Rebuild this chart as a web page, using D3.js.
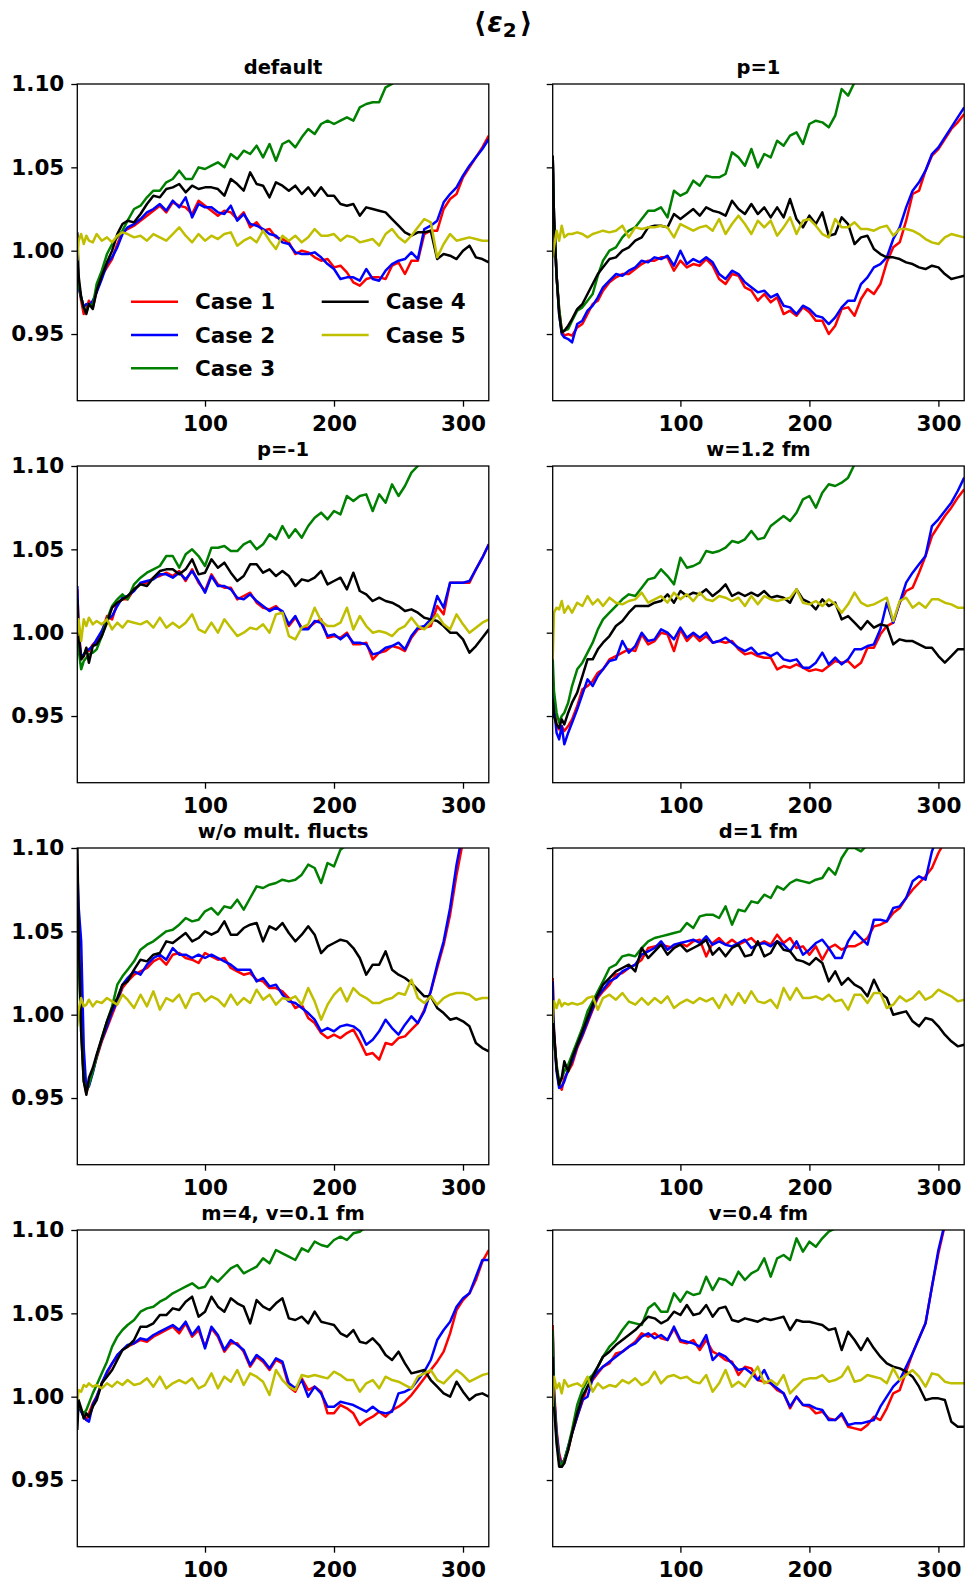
<!DOCTYPE html>
<html>
<head>
<meta charset="utf-8">
<script src="https://cdn.jsdelivr.net/npm/d3@7"></script>
<style>
  body { margin: 0; background: #fff; }
  svg text { font-family: "DejaVu Sans", sans-serif; font-weight: bold; fill: #000; }
</style>
</head>
<body>
<svg id="chart" width="966" height="1584"></svg>
<script>
// x positions shared by every curve
const xGrid = [1,2,4,6,8,10,13,16,20,24,28,32,36,40,
  45,50,55,60,65,70,75,80,85,90,95,100,105,110,115,120,125,130,135,140,
  145,150,155,160,165,170,175,180,185,190,195,200,205,210,215,220,225,230,235,240,
  245,250,255,260,265,270,275,280,285,290,295,300,305,310,315,320];

const caseNames = ["Case 1", "Case 2", "Case 3", "Case 4", "Case 5"];
const caseColors = ["#ff0000", "#0000ff", "#008000", "#000000", "#bfbf00"];
const panelTitles = ["default", "p=1", "p=-1", "w=1.2 fm", "w/o mult. flucts", "d=1 fm", "m=4, v=0.1 fm", "v=0.4 fm"];
const yTicks = [0.95, 1.00, 1.05, 1.10];
const xTicks = [100, 200, 300];

// <eps2> per case, one array per panel (cases 1..5)
const epsDefault = [
  [0.995,0.980,0.970,0.962,0.965,0.970,0.966,0.976,0.985,0.990,0.995,1.004,1.011,1.013,
   1.015,1.018,1.021,1.024,1.027,1.023,1.029,1.027,1.026,1.022,
   1.030,1.027,1.024,1.021,1.024,1.023,1.019,1.023,1.014,1.017,
   1.012,1.013,1.008,1.007,1.005,0.998,1.000,0.999,0.996,0.994,
   0.995,0.990,0.991,0.987,0.981,0.979,0.983,0.984,0.984,0.983,
   0.991,0.993,0.986,0.994,0.994,1.010,1.012,1.012,1.025,1.031,
   1.034,1.044,1.050,1.056,1.062,1.069],
  [0.998,0.978,0.972,0.966,0.968,0.967,0.970,0.975,0.983,0.992,0.996,1.002,1.010,1.014,
   1.016,1.019,1.023,1.025,1.028,1.024,1.030,1.026,1.032,1.020,
   1.028,1.026,1.026,1.023,1.022,1.027,1.018,1.022,1.016,1.015,
   1.013,1.010,1.009,1.005,1.004,0.999,0.998,0.998,0.999,0.996,
   0.992,0.989,0.983,0.984,0.984,0.982,0.989,0.983,0.982,0.988,
   0.992,0.994,0.995,0.999,0.995,1.013,1.015,1.018,1.029,1.034,
   1.038,1.045,1.051,1.056,1.061,1.067],
  [0.996,0.980,0.972,0.966,0.963,0.968,0.967,0.980,0.988,0.998,1.004,1.008,1.012,1.018,
   1.025,1.027,1.032,1.036,1.036,1.041,1.043,1.048,1.043,1.043,
   1.050,1.049,1.051,1.053,1.050,1.058,1.055,1.060,1.058,1.063,
   1.056,1.064,1.054,1.064,1.066,1.062,1.068,1.073,1.070,1.076,
   1.078,1.076,1.078,1.080,1.078,1.086,1.088,1.089,1.089,1.098,
   1.100,1.106],
  [1.011,0.985,0.972,0.966,0.962,0.968,0.965,0.976,0.985,0.993,1.000,1.010,1.016,1.018,
   1.017,1.022,1.028,1.033,1.032,1.037,1.038,1.040,1.035,1.039,
   1.037,1.038,1.038,1.037,1.033,1.043,1.040,1.036,1.047,1.040,
   1.039,1.032,1.041,1.039,1.036,1.039,1.034,1.038,1.033,1.038,
   1.033,1.033,1.028,1.027,1.028,1.021,1.026,1.025,1.024,1.023,
   1.019,1.015,1.011,1.009,1.011,1.011,1.012,0.995,0.998,0.997,
   0.995,1.000,1.003,0.996,0.995,0.993],
  [0.994,1.006,1.010,1.004,1.009,1.006,1.005,1.010,1.006,1.008,1.005,1.009,1.011,1.010,
   1.008,1.009,1.006,1.010,1.008,1.006,1.010,1.014,1.009,1.005,
   1.010,1.006,1.009,1.007,1.010,1.011,1.003,1.006,1.008,1.005,
   1.012,1.006,1.001,1.009,1.006,1.009,1.005,1.008,1.013,1.009,
   1.009,1.010,1.006,1.009,1.008,1.005,1.006,1.007,1.003,1.010,
   1.013,1.008,1.005,1.009,1.014,1.019,1.017,0.996,1.004,1.010,
   1.006,1.007,1.008,1.007,1.006,1.006]
];

const epsP1 = [
  [1.057,1.020,0.985,0.965,0.952,0.949,0.950,0.949,0.954,0.956,0.962,0.968,0.970,0.976,
   0.981,0.984,0.986,0.986,0.989,0.992,0.994,0.994,0.996,0.996,
   0.988,0.994,0.990,0.992,0.991,0.995,0.991,0.983,0.980,0.986,
   0.985,0.978,0.976,0.970,0.974,0.969,0.972,0.962,0.964,0.961,
   0.966,0.963,0.958,0.958,0.950,0.955,0.965,0.966,0.961,0.971,
   0.977,0.974,0.980,0.993,1.002,1.005,1.018,1.034,1.036,1.048,
   1.057,1.061,1.067,1.073,1.077,1.082],
  [1.057,1.020,0.985,0.962,0.950,0.948,0.947,0.945,0.956,0.958,0.964,0.967,0.972,0.978,
   0.982,0.986,0.985,0.988,0.990,0.994,0.993,0.996,0.995,0.997,
   0.991,1.000,0.992,0.995,0.993,0.996,0.993,0.986,0.983,0.988,
   0.986,0.981,0.978,0.975,0.976,0.972,0.974,0.967,0.966,0.962,
   0.967,0.965,0.961,0.960,0.956,0.960,0.966,0.970,0.970,0.980,
   0.984,0.990,0.992,0.996,1.007,1.014,1.026,1.036,1.041,1.048,
   1.058,1.062,1.068,1.074,1.080,1.086],
  [1.055,1.020,0.985,0.965,0.952,0.952,0.953,0.958,0.964,0.966,0.970,0.974,0.985,0.994,
   1.000,1.002,1.008,1.012,1.014,1.019,1.024,1.024,1.026,1.020,
   1.036,1.033,1.035,1.042,1.039,1.045,1.044,1.044,1.046,1.059,
   1.056,1.051,1.061,1.050,1.058,1.056,1.066,1.063,1.069,1.071,
   1.064,1.076,1.078,1.077,1.074,1.081,1.097,1.093,1.101,1.108],
  [1.057,1.020,0.985,0.962,0.951,0.952,0.955,0.959,0.965,0.968,0.974,0.980,0.986,0.990,
   0.995,0.996,1.000,1.002,1.006,1.008,1.014,1.015,1.015,1.014,
   1.022,1.019,1.022,1.025,1.021,1.026,1.024,1.023,1.021,1.030,
   1.025,1.022,1.028,1.022,1.026,1.020,1.026,1.020,1.031,1.019,
   1.014,1.021,1.016,1.023,1.009,1.010,1.020,1.016,1.004,1.008,
   1.009,1.001,0.998,0.996,0.996,0.995,0.993,0.992,0.990,0.989,
   0.991,0.990,0.986,0.983,0.984,0.985],
  [0.996,1.002,1.012,1.006,1.015,1.008,1.010,1.010,1.011,1.010,1.008,1.010,1.011,1.012,
   1.011,1.012,1.015,1.008,1.014,1.013,1.014,1.014,1.015,1.014,
   1.008,1.016,1.014,1.012,1.014,1.015,1.012,1.019,1.010,1.016,
   1.021,1.016,1.010,1.018,1.014,1.018,1.009,1.014,1.020,1.010,
   1.018,1.019,1.015,1.010,1.008,1.019,1.014,1.014,1.017,1.013,
   1.013,1.012,1.014,1.015,1.009,1.013,1.013,1.012,1.010,1.007,
   1.005,1.004,1.008,1.010,1.009,1.008]
];

const epsPm1 = [
  [1.026,1.004,0.984,0.986,0.990,0.989,0.993,0.995,1.000,1.010,1.008,1.018,1.020,1.020,
   1.026,1.029,1.030,1.033,1.034,1.036,1.034,1.037,1.031,1.038,
   1.030,1.025,1.035,1.029,1.027,1.027,1.020,1.022,1.024,1.018,
   1.015,1.014,1.016,1.012,1.004,1.009,1.003,1.003,1.006,1.008,
   0.997,0.998,0.997,1.000,0.993,0.993,0.994,0.984,0.988,0.989,
   0.992,0.991,0.989,0.997,1.002,1.003,1.004,1.016,1.011,1.030,
   1.030,1.030,1.030,1.038,1.045,1.053],
  [1.028,1.000,0.985,0.987,0.989,0.990,0.992,0.996,1.001,1.008,1.010,1.016,1.021,1.022,
   1.025,1.030,1.031,1.032,1.035,1.035,1.033,1.036,1.032,1.037,
   1.031,1.024,1.034,1.028,1.028,1.026,1.021,1.020,1.023,1.019,
   1.016,1.013,1.015,1.013,1.005,1.010,1.002,1.002,1.007,1.006,
   0.998,0.999,0.996,0.999,0.994,0.994,0.993,0.987,0.988,0.991,
   0.992,0.994,0.990,0.998,1.003,1.004,1.008,1.022,1.015,1.030,
   1.030,1.030,1.031,1.038,1.045,1.053],
  [1.000,0.990,0.978,0.983,0.985,0.987,0.988,0.990,0.998,1.008,1.016,1.020,1.023,1.020,
   1.029,1.033,1.036,1.038,1.040,1.046,1.046,1.039,1.047,1.050,
   1.046,1.040,1.051,1.051,1.052,1.049,1.049,1.053,1.055,1.050,
   1.053,1.059,1.056,1.064,1.057,1.062,1.057,1.064,1.069,1.072,
   1.068,1.073,1.071,1.082,1.079,1.082,1.083,1.073,1.083,1.078,
   1.089,1.082,1.088,1.096,1.100,1.108],
  [1.020,0.998,0.984,0.986,0.991,0.982,0.992,0.993,0.998,1.006,1.015,1.018,1.020,1.022,
   1.026,1.029,1.028,1.033,1.037,1.038,1.038,1.035,1.038,1.044,
   1.035,1.036,1.044,1.039,1.042,1.036,1.031,1.034,1.041,1.041,
   1.036,1.038,1.034,1.037,1.034,1.028,1.032,1.031,1.033,1.037,
   1.029,1.031,1.033,1.026,1.036,1.025,1.023,1.019,1.021,1.019,
   1.018,1.016,1.013,1.014,1.012,1.009,1.008,1.007,1.004,1.000,
   1.000,0.996,0.988,0.992,0.997,1.002],
  [0.998,1.008,0.995,1.008,1.004,1.009,1.005,1.007,1.005,1.008,1.002,1.006,1.003,1.007,
   1.006,1.005,1.007,1.003,1.009,1.003,1.006,1.003,1.006,1.011,
   1.002,1.000,1.006,1.000,1.008,1.003,0.998,1.000,1.003,1.002,
   1.005,1.000,1.011,1.012,0.998,0.996,1.003,1.005,1.015,1.007,
   1.004,1.004,1.006,1.015,1.002,1.010,1.004,1.000,1.001,1.000,
   0.998,1.002,1.004,1.009,1.004,1.002,1.006,1.011,1.005,1.002,
   1.011,1.005,1.000,1.003,1.006,1.008]
];

const epsW12 = [
  [0.975,0.958,0.944,0.942,0.944,0.941,0.944,0.948,0.956,0.966,0.968,0.971,0.976,0.978,
   0.984,0.986,0.988,0.990,0.989,0.999,0.993,0.995,1.000,0.999,
   0.989,1.002,0.995,0.999,0.995,0.998,0.994,0.995,0.994,0.995,
   0.990,0.987,0.988,0.986,0.985,0.985,0.978,0.980,0.979,0.981,
   0.979,0.977,0.978,0.977,0.980,0.983,0.982,0.983,0.979,0.982,
   0.991,0.991,0.999,1.004,1.006,1.018,1.025,1.027,1.036,1.046,
   1.058,1.064,1.070,1.075,1.081,1.086],
  [0.972,0.955,0.940,0.936,0.944,0.933,0.940,0.946,0.954,0.963,0.972,0.968,0.974,0.978,
   0.983,0.984,0.995,0.988,0.992,1.000,0.995,0.996,1.002,1.000,
   0.996,1.003,0.997,1.000,0.997,1.000,0.994,0.995,0.997,0.994,
   0.991,0.989,0.991,0.987,0.988,0.986,0.988,0.984,0.983,0.984,
   0.979,0.979,0.982,0.988,0.981,0.985,0.981,0.984,0.990,0.990,
   0.992,0.993,1.002,1.018,1.006,1.018,1.030,1.036,1.041,1.046,
   1.064,1.068,1.073,1.078,1.085,1.093],
  [0.985,0.965,0.952,0.946,0.950,0.952,0.958,0.968,0.978,0.982,0.988,0.994,1.002,1.008,
   1.012,1.016,1.020,1.023,1.022,1.027,1.032,1.033,1.038,1.034,
   1.029,1.045,1.039,1.040,1.042,1.049,1.048,1.049,1.051,1.055,
   1.054,1.056,1.061,1.056,1.057,1.064,1.067,1.070,1.067,1.072,
   1.080,1.082,1.075,1.084,1.089,1.088,1.090,1.093,1.101,1.108],
  [0.960,0.950,0.945,0.943,0.948,0.945,0.952,0.958,0.964,0.974,0.984,0.984,0.990,0.994,
   0.998,1.004,1.007,1.012,1.016,1.016,1.016,1.018,1.019,1.023,
   1.018,1.025,1.022,1.024,1.023,1.026,1.022,1.025,1.029,1.022,
   1.024,1.022,1.024,1.022,1.025,1.021,1.022,1.021,1.018,1.026,
   1.020,1.018,1.014,1.020,1.016,1.018,1.008,1.010,1.006,1.002,
   1.007,1.003,1.005,1.004,0.993,0.996,0.995,0.995,0.993,0.991,
   0.991,0.986,0.982,0.986,0.990,0.990],
  [0.984,1.012,1.015,1.014,1.019,1.012,1.016,1.012,1.018,1.016,1.022,1.017,1.020,1.016,
   1.021,1.018,1.017,1.019,1.020,1.024,1.018,1.020,1.022,1.018,
   1.024,1.020,1.023,1.019,1.024,1.020,1.019,1.022,1.021,1.019,
   1.021,1.016,1.022,1.017,1.022,1.020,1.019,1.020,1.021,1.026,
   1.018,1.017,1.019,1.016,1.020,1.017,1.012,1.017,1.024,1.018,
   1.016,1.017,1.019,1.021,1.007,1.019,1.021,1.015,1.018,1.015,
   1.020,1.020,1.018,1.017,1.015,1.015]
];

const epsNoMult = [
  [1.090,1.045,0.995,0.962,0.953,0.958,0.966,0.974,0.984,0.992,1.000,1.008,1.016,1.020,
   1.024,1.026,1.028,1.032,1.034,1.030,1.036,1.037,1.034,1.033,
   1.031,1.037,1.035,1.033,1.034,1.028,1.026,1.024,1.025,1.021,
   1.020,1.016,1.016,1.014,1.010,1.004,1.006,0.998,0.995,0.989,
   0.986,0.988,0.986,0.989,0.991,0.984,0.976,0.977,0.973,0.983,
   0.982,0.986,0.987,0.991,0.995,1.003,1.014,1.028,1.042,1.060,
   1.084,1.104],
  [1.088,1.065,1.044,0.980,0.955,0.957,0.965,0.975,0.985,0.993,1.002,1.008,1.018,1.022,
   1.026,1.024,1.030,1.034,1.036,1.033,1.040,1.036,1.036,1.034,
   1.036,1.034,1.036,1.034,1.032,1.030,1.027,1.027,1.027,1.020,
   1.022,1.017,1.018,1.012,1.008,1.007,1.004,1.001,0.997,0.990,
   0.992,0.990,0.993,0.994,0.993,0.990,0.982,0.985,0.990,0.997,
   0.992,0.988,0.994,0.999,0.995,1.002,1.014,1.030,1.044,1.064,
   1.090,1.110],
  [1.085,1.035,0.990,0.960,0.954,0.958,0.966,0.975,0.986,0.996,1.005,1.018,1.023,1.027,
   1.032,1.039,1.042,1.044,1.047,1.050,1.051,1.054,1.058,1.056,
   1.057,1.062,1.064,1.060,1.065,1.064,1.069,1.063,1.070,1.077,
   1.076,1.078,1.079,1.081,1.080,1.081,1.084,1.090,1.088,1.079,
   1.091,1.089,1.099,1.102,1.106],
  [1.105,1.050,0.990,0.960,0.952,0.962,0.968,0.976,0.986,0.996,1.004,1.010,1.018,1.020,
   1.027,1.033,1.032,1.036,1.037,1.044,1.043,1.046,1.049,1.044,
   1.046,1.050,1.048,1.050,1.056,1.048,1.048,1.052,1.054,1.055,
   1.044,1.053,1.051,1.055,1.049,1.044,1.048,1.053,1.048,1.037,
   1.041,1.043,1.045,1.044,1.040,1.034,1.024,1.030,1.030,1.038,
   1.027,1.024,1.022,1.019,1.015,1.011,1.011,1.004,1.001,0.997,
   0.998,0.996,0.993,0.983,0.980,0.978],
  [0.993,1.003,1.010,1.005,1.006,1.009,1.005,1.008,1.007,1.010,1.008,1.006,1.012,1.009,
   1.004,1.012,1.005,1.014,1.003,1.010,1.008,1.012,1.004,1.012,
   1.013,1.008,1.011,1.009,1.005,1.012,1.006,1.010,1.007,1.015,
   1.009,1.012,1.006,1.010,1.009,1.011,1.006,1.016,1.008,0.997,
   1.006,1.012,1.016,1.008,1.016,1.012,1.010,1.007,1.007,1.009,
   1.010,1.013,1.012,1.021,1.010,1.007,1.011,1.006,1.010,1.012,
   1.013,1.013,1.012,1.009,1.010,1.010]
];

const epsD1 = [
  [1.022,0.990,0.968,0.958,0.955,0.962,0.966,0.970,0.980,0.987,0.995,1.003,1.010,1.014,
   1.018,1.024,1.025,1.028,1.030,1.033,1.040,1.041,1.042,1.041,
   1.040,1.043,1.041,1.044,1.045,1.035,1.043,1.046,1.042,1.045,
   1.042,1.044,1.046,1.042,1.044,1.042,1.048,1.043,1.046,1.040,
   1.041,1.036,1.041,1.033,1.040,1.042,1.039,1.041,1.041,1.043,
   1.046,1.053,1.054,1.056,1.061,1.064,1.070,1.075,1.079,1.083,
   1.088,1.097,1.104],
  [1.020,0.988,0.966,0.956,0.957,0.960,0.967,0.972,0.981,0.988,0.996,1.004,1.011,1.015,
   1.020,1.022,1.026,1.028,1.030,1.036,1.038,1.040,1.044,1.039,
   1.042,1.043,1.044,1.045,1.043,1.047,1.042,1.044,1.042,1.041,
   1.043,1.045,1.040,1.042,1.043,1.041,1.044,1.042,1.038,1.044,
   1.036,1.039,1.043,1.045,1.040,1.034,1.034,1.044,1.050,1.046,
   1.042,1.057,1.057,1.056,1.064,1.065,1.070,1.080,1.083,1.081,
   1.098,1.108],
  [1.000,0.985,0.970,0.960,0.962,0.966,0.970,0.976,0.984,0.992,1.002,1.008,1.014,1.020,
   1.028,1.030,1.035,1.036,1.035,1.040,1.044,1.046,1.047,1.048,
   1.049,1.050,1.055,1.052,1.059,1.060,1.060,1.058,1.065,1.054,
   1.063,1.062,1.068,1.067,1.072,1.070,1.077,1.075,1.079,1.081,
   1.080,1.079,1.081,1.082,1.088,1.084,1.094,1.100,1.100,1.098,
   1.102],
  [0.999,0.990,0.968,0.958,0.962,0.972,0.966,0.974,0.982,0.990,0.998,1.006,1.012,1.018,
   1.022,1.026,1.028,1.030,1.026,1.040,1.034,1.038,1.042,1.036,
   1.040,1.042,1.038,1.040,1.042,1.045,1.036,1.040,1.035,1.040,
   1.042,1.035,1.036,1.044,1.035,1.037,1.044,1.039,1.038,1.033,
   1.032,1.030,1.034,1.031,1.020,1.026,1.018,1.022,1.018,1.016,
   1.011,1.021,1.013,1.010,1.000,1.001,1.002,0.996,0.993,0.998,
   0.997,0.993,0.988,0.984,0.981,0.982],
  [0.995,1.008,1.004,1.009,1.005,1.007,1.006,1.007,1.006,1.007,1.010,1.011,1.003,1.010,
   1.012,1.009,1.013,1.008,1.006,1.010,1.006,1.010,1.007,1.011,
   1.004,1.007,1.009,1.007,1.010,1.008,1.010,1.004,1.012,1.006,
   1.013,1.007,1.014,1.008,1.007,1.009,1.004,1.016,1.009,1.016,
   1.010,1.010,1.011,1.009,1.012,1.008,1.009,1.003,1.012,1.012,
   1.007,1.013,1.013,1.004,1.006,1.011,1.008,1.010,1.014,1.009,
   1.011,1.015,1.013,1.011,1.008,1.009]
];

const epsM4 = [
  [0.998,0.995,0.992,0.988,0.986,0.990,0.996,1.000,1.008,1.014,1.020,1.024,1.028,1.030,
   1.032,1.034,1.033,1.036,1.038,1.040,1.042,1.038,1.044,1.036,
   1.040,1.030,1.041,1.036,1.027,1.032,1.032,1.027,1.018,1.024,
   1.021,1.016,1.022,1.020,1.006,1.003,1.011,1.004,1.006,1.003,
   0.990,0.990,0.995,0.993,0.990,0.983,0.986,0.988,0.991,0.988,
   0.992,0.994,0.997,1.001,1.006,1.011,1.016,1.021,1.027,1.038,
   1.052,1.058,1.062,1.070,1.081,1.088],
  [0.996,0.994,0.991,0.988,0.986,0.985,0.995,1.000,1.008,1.015,1.020,1.025,1.028,1.031,
   1.032,1.035,1.034,1.037,1.039,1.041,1.043,1.040,1.045,1.037,
   1.042,1.029,1.042,1.037,1.028,1.034,1.031,1.028,1.019,1.025,
   1.022,1.017,1.023,1.021,1.008,1.005,1.010,1.000,1.006,1.002,
   0.994,0.994,0.997,0.996,0.995,0.993,0.991,0.994,0.991,0.990,
   0.991,1.002,1.003,1.005,1.010,1.015,1.022,1.034,1.040,1.045,
   1.054,1.059,1.062,1.072,1.082,1.082],
  [0.990,0.996,0.992,0.990,0.992,0.996,1.002,1.007,1.014,1.021,1.030,1.036,1.040,1.043,
   1.046,1.051,1.053,1.054,1.057,1.059,1.062,1.064,1.066,1.068,
   1.065,1.066,1.072,1.069,1.073,1.077,1.079,1.074,1.076,1.078,
   1.083,1.080,1.088,1.086,1.084,1.082,1.089,1.087,1.093,1.091,
   1.090,1.094,1.096,1.094,1.098,1.099,1.102],
  [0.980,0.998,0.993,0.987,0.990,0.988,0.994,0.998,1.008,1.012,1.016,1.022,1.028,1.030,
   1.034,1.042,1.042,1.044,1.049,1.049,1.053,1.052,1.057,1.060,
   1.048,1.051,1.060,1.054,1.051,1.059,1.056,1.054,1.044,1.058,
   1.054,1.052,1.056,1.059,1.047,1.046,1.048,1.044,1.051,1.045,
   1.044,1.043,1.038,1.036,1.040,1.033,1.032,1.035,1.031,1.025,
   1.022,1.027,1.020,1.014,1.015,1.016,1.010,1.006,1.002,1.000,
   1.009,1.003,0.998,1.001,1.002,1.000],
  [0.998,1.004,1.003,1.007,1.006,1.008,1.006,1.007,1.005,1.008,1.006,1.009,1.007,1.010,
   1.007,1.008,1.011,1.006,1.012,1.005,1.008,1.010,1.008,1.011,
   1.005,1.007,1.014,1.005,1.012,1.009,1.016,1.007,1.014,1.012,
   1.009,1.001,1.016,1.010,1.006,1.004,1.013,1.012,1.013,1.012,
   1.011,1.015,1.013,1.010,1.010,1.003,1.008,1.010,1.005,1.012,
   1.010,1.009,1.007,1.005,1.012,1.014,1.016,1.010,1.008,1.012,
   1.016,1.013,1.009,1.011,1.013,1.014]
];

const epsV04 = [
  [1.043,1.005,0.980,0.966,0.960,0.962,0.968,0.978,0.988,0.997,1.006,1.010,1.014,1.018,
   1.020,1.026,1.027,1.030,1.033,1.038,1.036,1.038,1.035,1.034,
   1.041,1.033,1.032,1.034,1.028,1.034,1.027,1.025,1.022,1.021,
   1.013,1.018,1.017,1.010,1.009,1.008,1.004,1.002,0.993,1.000,
   0.995,0.994,0.990,0.991,0.987,0.986,0.989,0.982,0.981,0.980,
   0.983,0.988,0.986,0.993,1.002,1.004,1.015,1.026,1.035,1.044,
   1.066,1.086,1.103],
  [1.038,1.002,0.978,0.964,0.958,0.962,0.970,0.978,0.988,0.998,1.000,1.011,1.015,1.018,
   1.021,1.024,1.027,1.030,1.032,1.036,1.038,1.035,1.037,1.034,
   1.042,1.034,1.033,1.032,1.030,1.037,1.022,1.026,1.024,1.020,
   1.016,1.017,1.014,1.010,1.016,1.008,1.005,1.002,0.994,1.000,
   0.995,0.995,0.993,0.992,0.986,0.986,0.990,0.983,0.984,0.984,
   0.985,0.986,0.994,1.000,1.006,1.010,1.018,1.026,1.035,1.044,
   1.066,1.088,1.104],
  [1.040,1.000,0.975,0.962,0.958,0.962,0.970,0.980,0.995,1.004,1.010,1.013,1.018,1.024,
   1.030,1.034,1.040,1.045,1.044,1.043,1.053,1.056,1.051,1.051,
   1.062,1.057,1.063,1.061,1.062,1.072,1.064,1.071,1.070,1.067,
   1.075,1.070,1.074,1.076,1.083,1.072,1.083,1.085,1.082,1.095,
   1.087,1.093,1.090,1.095,1.099,1.101],
  [1.024,0.995,0.972,0.958,0.958,0.960,0.968,0.978,0.990,1.000,1.006,1.012,1.018,1.024,
   1.027,1.031,1.034,1.037,1.040,1.044,1.048,1.047,1.044,1.046,
   1.051,1.049,1.055,1.049,1.050,1.055,1.048,1.053,1.054,1.046,
   1.045,1.047,1.046,1.045,1.047,1.046,1.047,1.048,1.040,1.046,
   1.045,1.045,1.044,1.043,1.040,1.041,1.028,1.039,1.034,1.028,
   1.035,1.029,1.024,1.020,1.018,1.017,1.015,1.012,1.006,0.998,
   0.999,0.999,0.998,0.985,0.982,0.982],
  [0.994,1.012,1.005,1.008,1.002,1.010,1.006,1.007,1.008,1.006,1.012,1.003,1.008,1.005,
   1.007,1.006,1.010,1.008,1.011,1.007,1.009,1.015,1.008,1.012,
   1.013,1.011,1.012,1.009,1.008,1.013,1.003,1.008,1.016,1.006,
   1.009,1.006,1.012,1.018,1.008,1.010,1.007,1.013,1.002,1.006,
   1.010,1.011,1.011,1.013,1.009,1.010,1.012,1.018,1.009,1.010,
   1.013,1.012,1.011,1.008,1.017,1.010,1.013,1.016,1.012,1.006,
   1.014,1.013,1.009,1.008,1.008,1.008]
];

const panelData = [epsDefault, epsP1, epsPm1, epsW12, epsNoMult, epsD1, epsM4, epsV04];

// layout
const plotW = 411.5, plotH = 316.7;
const colLeft = [77.3, 552.7];
const rowTop = [84, 466, 848, 1230];
const tickFont = "21.5px";
const lineWidth = 2.5;

const svg = d3.select("#chart");

const x = d3.scaleLinear().domain([1, 320]).range([0, plotW]);
const y = d3.scaleLinear().domain([0.91, 1.10]).range([plotH, 0]);

const line = d3.line()
  .defined(d => d[1] != null)
  .x(d => x(d[0]))
  .y(d => y(d[1]));

// figure title
const title = svg.append("text")
  .attr("x", 503).attr("y", 32)
  .attr("text-anchor", "middle")
  .style("font-size", "28px");
title.append("tspan").text("\u27E8");
title.append("tspan").attr("dx", 1).style("font-style", "italic").text("\u03B5");
title.append("tspan").attr("dy", 5).style("font-size", "20px").text("2");
title.append("tspan").attr("dx", 3).attr("dy", -5).text("\u27E9");

panelData.forEach((series, i) => {
  const col = i % 2, row = Math.floor(i / 2);
  const g = svg.append("g")
    .attr("transform", `translate(${colLeft[col]},${rowTop[row]})`);

  g.append("clipPath").attr("id", "clip" + i)
    .append("rect").attr("width", plotW).attr("height", plotH);

  g.append("text")
    .attr("x", plotW / 2).attr("y", -10)
    .attr("text-anchor", "middle")
    .style("font-size", "19.5px")
    .text(panelTitles[i]);

  const lines = g.append("g").attr("clip-path", `url(#clip${i})`);
  series.forEach((vals, k) => {
    lines.append("path")
      .datum(vals.map((v, j) => [xGrid[j], v]))
      .attr("d", line)
      .attr("fill", "none")
      .attr("stroke", caseColors[k])
      .attr("stroke-width", lineWidth)
      .attr("stroke-linejoin", "round");
  });

  const xAxis = g.append("g")
    .attr("transform", `translate(0,${plotH})`)
    .call(d3.axisBottom(x).tickValues(xTicks).tickSize(6).tickPadding(9).tickSizeOuter(0));
  const yAxis = g.append("g")
    .call(d3.axisLeft(y).tickValues(yTicks).tickSize(6).tickPadding(7)
      .tickFormat(col === 0 ? d3.format(".2f") : () => "").tickSizeOuter(0));

  [xAxis, yAxis].forEach(ax => {
    ax.select(".domain").remove();
    ax.selectAll(".tick line").attr("stroke", "#000").attr("stroke-width", 1.3);
    ax.selectAll(".tick text")
      .attr("font-family", null).attr("font-size", null)
      .style("font-size", tickFont);
  });

  g.append("rect")
    .attr("width", plotW).attr("height", plotH)
    .attr("fill", "none").attr("stroke", "#000").attr("stroke-width", 1.3);

  if (i === 0) {
    const legend = g.append("g").attr("class", "legend");
    caseNames.forEach((name, k) => {
      const lx = k < 3 ? 53.7 : 244.4;
      const ly = 217.7 + (k % 3) * 33.3;
      legend.append("line")
        .attr("x1", lx).attr("x2", lx + 47)
        .attr("y1", ly).attr("y2", ly)
        .attr("stroke", caseColors[k]).attr("stroke-width", lineWidth);
      legend.append("text")
        .attr("x", lx + 64).attr("y", ly).attr("dy", "0.36em")
        .style("font-size", tickFont)
        .text(name);
    });
  }
});
</script>
</body>
</html>
